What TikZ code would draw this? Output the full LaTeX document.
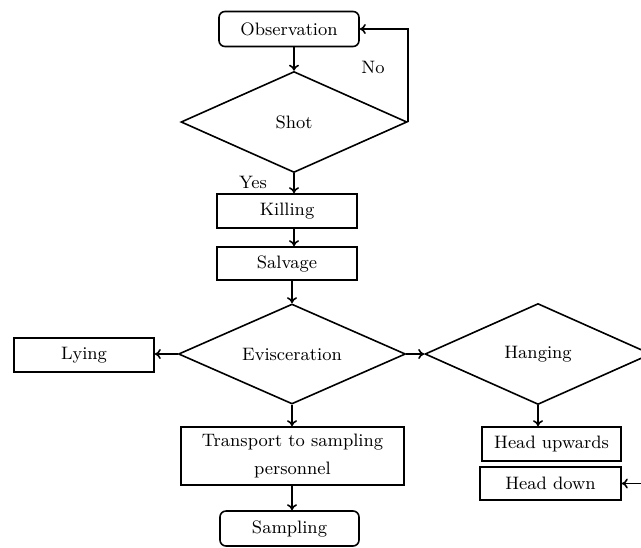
\documentclass[tikz,border=0pt]{standalone}
\usetikzlibrary{shapes.geometric,arrows.meta}
\tikzset{every node/.style={font=\fontsize{9}{11}\selectfont},
    box/.style={draw,rectangle,line width=0.8pt,inner sep=0pt},
    rbox/.style={box,rounded corners=3pt},
    decision/.style={draw,diamond,line width=0.8pt,inner sep=0pt,shape aspect=2},
    flow/.style={-{To[length=3pt,width=5pt]},line width=0.8pt}}
\begin{document}
\begin{tikzpicture}[x=0.5pt,y=-0.5pt]
\useasboundingbox (0,0) rectangle (641,547);
\clip (0,0) rectangle (641,547);
% main column
\node[rbox,minimum width=70pt,minimum height=17.5pt] (obs) at (289,29) {Observation};
\node[decision,minimum width=113pt,minimum height=50.5pt] (shot) at (294,122) {Shot};
\node[box,minimum width=70pt,minimum height=17pt] (kill) at (287,211) {Killing};
\node[box,minimum width=70pt,minimum height=16.5pt] (salv) at (287,263.5) {Salvage};
\node[decision,minimum width=113.5pt,minimum height=50pt] (evis) at (292,354) {Evisceration};
\node[box,minimum width=70pt,minimum height=17pt] (lying) at (84,355) {Lying};
\node[decision,minimum width=113pt,minimum height=50.5pt] (hang) at (538,354) {Hanging};
\node[box,minimum width=111.5pt,minimum height=29pt,align=center,
    font=\fontsize{9}{14}\selectfont] (trans) at (292.5,456) {Transport to sampling\\personnel};
\node[rbox,minimum width=69.5pt,minimum height=17.5pt] (samp) at (289.5,528.5) {Sampling};
\node[box,minimum width=69.5pt,minimum height=17pt] (hup) at (551.5,444) {Head upwards};
\node[box,minimum width=70.5pt,minimum height=16.5pt] (hdown) at (550.5,483.5) {Head down};
% labels
\node (no) at (373,67) {No};
\node (yes) at (253,182) {Yes};
% connectors
\draw[flow] (obs.south -| shot.north) -- (shot.north);
\draw[flow] (shot.east) |- (obs.east);
\draw[flow] (shot.south) -- (shot.south |- kill.north);
\draw[flow] (kill.south -| shot.south) -- (shot.south |- salv.north);
\draw[flow] (salv.south -| evis.north) -- (evis.north);
\draw[flow] (evis.west) -- (evis.west -| lying.east);
\draw[flow] (evis.east) -- (hang.west);
\draw[flow] (evis.south) -- (evis.south |- trans.north);
\draw[flow] (trans.south -| evis.south) -- (evis.south |- samp.north);
\draw[flow] (hang.south) -- (hang.south |- hup.north);
\draw[flow] (hang.east) -- ++(12,0) |- (hdown.east);
\end{tikzpicture}
\end{document}
